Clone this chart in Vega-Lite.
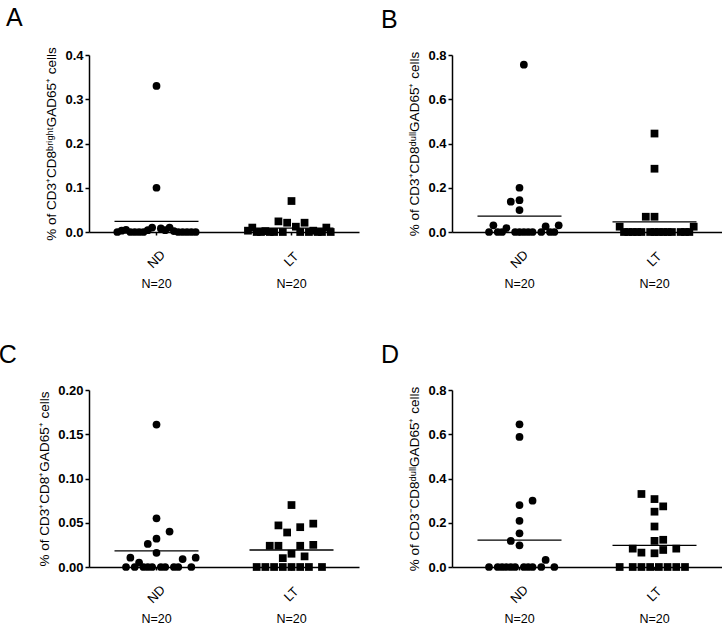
{
  "$schema": "https://vega.github.io/schema/vega-lite/v6.json",
  "background": "white",
  "padding": {"left": -2, "top": 5, "right": 2, "bottom": 0},
  "config": {
    "font": "Liberation Sans",
    "view": {"stroke": null},
    "axis": {"domainColor": "black", "tickColor": "black", "labelColor": "black", "titleColor": "black", "grid": false, "labelFont": "Liberation Sans", "titleFont": "Liberation Sans", "domainWidth": 1.5, "tickWidth": 1.5},
    "title": {"font": "Liberation Sans", "fontSize": 25, "fontWeight": "normal", "color": "black", "anchor": "start", "offset": 16}
  },
  "datasets": {
    "cells": [
      {"panel": "A", "group": "ND", "v": 0.33, "slot": 0},
      {"panel": "A", "group": "ND", "v": 0.1, "slot": 0},
      {"panel": "A", "group": "ND", "v": 0, "slot": -9},
      {"panel": "A", "group": "ND", "v": 0.003, "slot": -8},
      {"panel": "A", "group": "ND", "v": 0.005, "slot": -7},
      {"panel": "A", "group": "ND", "v": 0, "slot": -6},
      {"panel": "A", "group": "ND", "v": 0, "slot": -5},
      {"panel": "A", "group": "ND", "v": 0, "slot": -4},
      {"panel": "A", "group": "ND", "v": 0, "slot": -3},
      {"panel": "A", "group": "ND", "v": 0.004, "slot": -2},
      {"panel": "A", "group": "ND", "v": 0.01, "slot": -1},
      {"panel": "A", "group": "ND", "v": 0.008, "slot": 1},
      {"panel": "A", "group": "ND", "v": 0.004, "slot": 2},
      {"panel": "A", "group": "ND", "v": 0.01, "slot": 3},
      {"panel": "A", "group": "ND", "v": 0.002, "slot": 4},
      {"panel": "A", "group": "ND", "v": 0, "slot": 5},
      {"panel": "A", "group": "ND", "v": 0, "slot": 6},
      {"panel": "A", "group": "ND", "v": 0, "slot": 7},
      {"panel": "A", "group": "ND", "v": 0, "slot": 8},
      {"panel": "A", "group": "ND", "v": 0, "slot": 9},
      {"panel": "A", "group": "LT", "v": 0.07, "slot": 0},
      {"panel": "A", "group": "LT", "v": 0.024, "slot": -3},
      {"panel": "A", "group": "LT", "v": 0.021, "slot": -1},
      {"panel": "A", "group": "LT", "v": 0.021, "slot": 3},
      {"panel": "A", "group": "LT", "v": 0.01, "slot": -9},
      {"panel": "A", "group": "LT", "v": 0.01, "slot": 8},
      {"panel": "A", "group": "LT", "v": 0.012, "slot": 1},
      {"panel": "A", "group": "LT", "v": 0.003, "slot": -10},
      {"panel": "A", "group": "LT", "v": 0, "slot": -8},
      {"panel": "A", "group": "LT", "v": 0, "slot": -7},
      {"panel": "A", "group": "LT", "v": 0.002, "slot": -6},
      {"panel": "A", "group": "LT", "v": 0, "slot": -5},
      {"panel": "A", "group": "LT", "v": 0, "slot": -4},
      {"panel": "A", "group": "LT", "v": 0, "slot": -2},
      {"panel": "A", "group": "LT", "v": 0, "slot": 2},
      {"panel": "A", "group": "LT", "v": 0, "slot": 4},
      {"panel": "A", "group": "LT", "v": 0.003, "slot": 5},
      {"panel": "A", "group": "LT", "v": 0, "slot": 6},
      {"panel": "A", "group": "LT", "v": 0, "slot": 7},
      {"panel": "A", "group": "LT", "v": 0, "slot": 9},

      {"panel": "B", "group": "ND", "v": 0.756, "slot": 1},
      {"panel": "B", "group": "ND", "v": 0.2, "slot": 0},
      {"panel": "B", "group": "ND", "v": 0.144, "slot": 0},
      {"panel": "B", "group": "ND", "v": 0.137, "slot": -2},
      {"panel": "B", "group": "ND", "v": 0.099, "slot": 0},
      {"panel": "B", "group": "ND", "v": 0.03, "slot": -6},
      {"panel": "B", "group": "ND", "v": 0.018, "slot": -3},
      {"panel": "B", "group": "ND", "v": 0, "slot": -7},
      {"panel": "B", "group": "ND", "v": 0.025, "slot": 6},
      {"panel": "B", "group": "ND", "v": 0.03, "slot": 9},
      {"panel": "B", "group": "ND", "v": 0, "slot": 8},
      {"panel": "B", "group": "ND", "v": 0, "slot": -5},
      {"panel": "B", "group": "ND", "v": 0, "slot": -4},
      {"panel": "B", "group": "ND", "v": 0, "slot": -1},
      {"panel": "B", "group": "ND", "v": 0, "slot": 0},
      {"panel": "B", "group": "ND", "v": 0, "slot": 1},
      {"panel": "B", "group": "ND", "v": 0, "slot": 2},
      {"panel": "B", "group": "ND", "v": 0, "slot": 3},
      {"panel": "B", "group": "ND", "v": 0, "slot": 5},
      {"panel": "B", "group": "ND", "v": 0, "slot": 7},
      {"panel": "B", "group": "LT", "v": 0.445, "slot": 0},
      {"panel": "B", "group": "LT", "v": 0.286, "slot": 0},
      {"panel": "B", "group": "LT", "v": 0.069, "slot": -2},
      {"panel": "B", "group": "LT", "v": 0.069, "slot": 0},
      {"panel": "B", "group": "LT", "v": 0.024, "slot": -8},
      {"panel": "B", "group": "LT", "v": 0.024, "slot": 9},
      {"panel": "B", "group": "LT", "v": 0, "slot": -7},
      {"panel": "B", "group": "LT", "v": 0, "slot": -6},
      {"panel": "B", "group": "LT", "v": 0, "slot": -5},
      {"panel": "B", "group": "LT", "v": 0, "slot": -4},
      {"panel": "B", "group": "LT", "v": 0, "slot": -3},
      {"panel": "B", "group": "LT", "v": 0, "slot": -1},
      {"panel": "B", "group": "LT", "v": 0, "slot": 0},
      {"panel": "B", "group": "LT", "v": 0, "slot": 1},
      {"panel": "B", "group": "LT", "v": 0, "slot": 2},
      {"panel": "B", "group": "LT", "v": 0, "slot": 3},
      {"panel": "B", "group": "LT", "v": 0, "slot": 4},
      {"panel": "B", "group": "LT", "v": 0, "slot": 6},
      {"panel": "B", "group": "LT", "v": 0, "slot": 7},
      {"panel": "B", "group": "LT", "v": 0, "slot": 8},

      {"panel": "C", "group": "ND", "v": 0.161, "slot": 0},
      {"panel": "C", "group": "ND", "v": 0.055, "slot": 0},
      {"panel": "C", "group": "ND", "v": 0.04, "slot": 3},
      {"panel": "C", "group": "ND", "v": 0.032, "slot": 0},
      {"panel": "C", "group": "ND", "v": 0.026, "slot": -2},
      {"panel": "C", "group": "ND", "v": 0.016, "slot": 0},
      {"panel": "C", "group": "ND", "v": 0.0105, "slot": -6},
      {"panel": "C", "group": "ND", "v": 0.009, "slot": 6},
      {"panel": "C", "group": "ND", "v": 0.0105, "slot": 9},
      {"panel": "C", "group": "ND", "v": 0, "slot": -7},
      {"panel": "C", "group": "ND", "v": 0.005, "slot": -4},
      {"panel": "C", "group": "ND", "v": 0, "slot": 8},
      {"panel": "C", "group": "ND", "v": 0, "slot": -5},
      {"panel": "C", "group": "ND", "v": 0, "slot": -3},
      {"panel": "C", "group": "ND", "v": 0, "slot": -2},
      {"panel": "C", "group": "ND", "v": 0, "slot": -1},
      {"panel": "C", "group": "ND", "v": 0, "slot": 1},
      {"panel": "C", "group": "ND", "v": 0, "slot": 2},
      {"panel": "C", "group": "ND", "v": 0, "slot": 4},
      {"panel": "C", "group": "ND", "v": 0, "slot": 5},
      {"panel": "C", "group": "LT", "v": 0.07, "slot": 0},
      {"panel": "C", "group": "LT", "v": 0.047, "slot": -3},
      {"panel": "C", "group": "LT", "v": 0.039, "slot": -1},
      {"panel": "C", "group": "LT", "v": 0.045, "slot": 2},
      {"panel": "C", "group": "LT", "v": 0.049, "slot": 5},
      {"panel": "C", "group": "LT", "v": 0.024, "slot": -5},
      {"panel": "C", "group": "LT", "v": 0.024, "slot": -3},
      {"panel": "C", "group": "LT", "v": 0.024, "slot": 2},
      {"panel": "C", "group": "LT", "v": 0.025, "slot": 5},
      {"panel": "C", "group": "LT", "v": 0.015, "slot": 0},
      {"panel": "C", "group": "LT", "v": 0.01, "slot": -2},
      {"panel": "C", "group": "LT", "v": 0.012, "slot": 3},
      {"panel": "C", "group": "LT", "v": 0, "slot": -8},
      {"panel": "C", "group": "LT", "v": 0, "slot": -6},
      {"panel": "C", "group": "LT", "v": 0, "slot": -4},
      {"panel": "C", "group": "LT", "v": 0, "slot": -2},
      {"panel": "C", "group": "LT", "v": 0, "slot": 0},
      {"panel": "C", "group": "LT", "v": 0, "slot": 2},
      {"panel": "C", "group": "LT", "v": 0, "slot": 4},
      {"panel": "C", "group": "LT", "v": 0, "slot": 7},

      {"panel": "D", "group": "ND", "v": 0.645, "slot": 0},
      {"panel": "D", "group": "ND", "v": 0.588, "slot": 0},
      {"panel": "D", "group": "ND", "v": 0.3, "slot": 3},
      {"panel": "D", "group": "ND", "v": 0.28, "slot": 0},
      {"panel": "D", "group": "ND", "v": 0.209, "slot": 0},
      {"panel": "D", "group": "ND", "v": 0.152, "slot": 0},
      {"panel": "D", "group": "ND", "v": 0.118, "slot": -2},
      {"panel": "D", "group": "ND", "v": 0.098, "slot": 0},
      {"panel": "D", "group": "ND", "v": 0.032, "slot": 6},
      {"panel": "D", "group": "ND", "v": 0, "slot": 8},
      {"panel": "D", "group": "ND", "v": 0, "slot": -7},
      {"panel": "D", "group": "ND", "v": 0, "slot": -5},
      {"panel": "D", "group": "ND", "v": 0, "slot": -4},
      {"panel": "D", "group": "ND", "v": 0, "slot": -3},
      {"panel": "D", "group": "ND", "v": 0, "slot": -2},
      {"panel": "D", "group": "ND", "v": 0, "slot": -1},
      {"panel": "D", "group": "ND", "v": 0, "slot": 1},
      {"panel": "D", "group": "ND", "v": 0, "slot": 2},
      {"panel": "D", "group": "ND", "v": 0, "slot": 3},
      {"panel": "D", "group": "ND", "v": 0, "slot": 5},
      {"panel": "D", "group": "LT", "v": 0.33, "slot": -3},
      {"panel": "D", "group": "LT", "v": 0.307, "slot": 0},
      {"panel": "D", "group": "LT", "v": 0.274, "slot": 2},
      {"panel": "D", "group": "LT", "v": 0.25, "slot": 0},
      {"panel": "D", "group": "LT", "v": 0.183, "slot": 0},
      {"panel": "D", "group": "LT", "v": 0.118, "slot": 0},
      {"panel": "D", "group": "LT", "v": 0.123, "slot": 2},
      {"panel": "D", "group": "LT", "v": 0.083, "slot": -5},
      {"panel": "D", "group": "LT", "v": 0.065, "slot": -3},
      {"panel": "D", "group": "LT", "v": 0.062, "slot": 0},
      {"panel": "D", "group": "LT", "v": 0.077, "slot": 2},
      {"panel": "D", "group": "LT", "v": 0.083, "slot": 5},
      {"panel": "D", "group": "LT", "v": 0, "slot": -8},
      {"panel": "D", "group": "LT", "v": 0, "slot": -5},
      {"panel": "D", "group": "LT", "v": 0, "slot": -3},
      {"panel": "D", "group": "LT", "v": 0, "slot": -1},
      {"panel": "D", "group": "LT", "v": 0, "slot": 1},
      {"panel": "D", "group": "LT", "v": 0, "slot": 3},
      {"panel": "D", "group": "LT", "v": 0, "slot": 5},
      {"panel": "D", "group": "LT", "v": 0, "slot": 7}
    ]
  },
  "data": {"name": "cells"},
  "columns": 2,
  "spacing": {"row": 53, "column": 21},
  "concat": [
    {
      "title": {"text": "A", "dx": -39},
      "width": 270, "height": 177,
      "transform": [{"filter": "datum.panel === 'A'"}],
      "layer": [
        {
          "mark": {"type": "point", "filled": true, "opacity": 1, "size": 60, "color": "black"},
          "encoding": {
            "x": {"field": "group", "type": "nominal", "sort": ["ND", "LT"], "scale": {"type": "band", "paddingInner": 0, "paddingOuter": 0}, "axis": {"title": null, "labelAngle": -45, "labelAlign": "center", "labelBaseline": "middle", "labelPadding": 24, "labelFontSize": 13, "tickSize": 3}},
            "xOffset": {"field": "slot", "type": "ordinal", "scale": {"type": "band", "domain": [-15, -14, -13, -12, -11, -10, -9, -8, -7, -6, -5, -4, -3, -2, -1, 0, 1, 2, 3, 4, 5, 6, 7, 8, 9, 10, 11, 12, 13, 14, 15], "paddingInner": 0, "paddingOuter": 0}},
            "y": {"field": "v", "type": "quantitative", "scale": {"domain": [0, 0.4], "nice": false}, "axis": {"title": "% of CD3⁺CD8ᵇʳⁱᵍʰᵗGAD65⁺ cells", "values": [0, 0.1, 0.2, 0.3, 0.4], "format": ".1f", "labelFontWeight": "bold", "labelFontSize": 13, "titleFontSize": 13.5, "titleFontWeight": "normal", "tickSize": 4, "titlePadding": 6}},
            "shape": {"field": "group", "type": "nominal", "scale": {"domain": ["ND", "LT"], "range": ["circle", "square"]}, "legend": null}
          }
        },
        {
          "mark": {"type": "tick", "color": "black", "thickness": 1.3, "size": 84},
          "encoding": {
            "x": {"field": "group", "type": "nominal", "sort": ["ND", "LT"], "axis": {"orient": "bottom", "title": null, "labelAngle": 0, "domain": false, "ticks": false, "labelPadding": 45, "labelExpr": "'N=20'", "labelFontSize": 12.5, "labelBaseline": "top", "labelAlign": "center"}},
            "y": {"aggregate": "mean", "field": "v", "type": "quantitative", "axis": {"title": "% of CD3⁺CD8ᵇʳⁱᵍʰᵗGAD65⁺ cells", "values": [0, 0.1, 0.2, 0.3, 0.4], "format": ".1f", "labelFontWeight": "bold", "labelFontSize": 13, "titleFontSize": 13.5, "titleFontWeight": "normal", "tickSize": 4, "titlePadding": 6}}
          }
        }
      ],
      "resolve": {"axis": {"x": "independent"}}
    },
    {
      "title": {"text": "B", "dx": -27},
      "width": 270, "height": 177,
      "transform": [{"filter": "datum.panel === 'B'"}],
      "layer": [
        {
          "mark": {"type": "point", "filled": true, "opacity": 1, "size": 60, "color": "black"},
          "encoding": {
            "x": {"field": "group", "type": "nominal", "sort": ["ND", "LT"], "scale": {"type": "band", "paddingInner": 0, "paddingOuter": 0}, "axis": {"title": null, "labelAngle": -45, "labelAlign": "center", "labelBaseline": "middle", "labelPadding": 24, "labelFontSize": 13, "tickSize": 3}},
            "xOffset": {"field": "slot", "type": "ordinal", "scale": {"type": "band", "domain": [-15, -14, -13, -12, -11, -10, -9, -8, -7, -6, -5, -4, -3, -2, -1, 0, 1, 2, 3, 4, 5, 6, 7, 8, 9, 10, 11, 12, 13, 14, 15], "paddingInner": 0, "paddingOuter": 0}},
            "y": {"field": "v", "type": "quantitative", "scale": {"domain": [0, 0.8], "nice": false}, "axis": {"title": "% of CD3⁺CD8ᵈᵘˡˡGAD65⁺ cells", "values": [0, 0.2, 0.4, 0.6, 0.8], "format": ".1f", "labelFontWeight": "bold", "labelFontSize": 13, "titleFontSize": 13.5, "titleFontWeight": "normal", "tickSize": 4, "titlePadding": 6}},
            "shape": {"field": "group", "type": "nominal", "scale": {"domain": ["ND", "LT"], "range": ["circle", "square"]}, "legend": null}
          }
        },
        {
          "mark": {"type": "tick", "color": "black", "thickness": 1.3, "size": 84},
          "encoding": {
            "x": {"field": "group", "type": "nominal", "sort": ["ND", "LT"], "axis": {"orient": "bottom", "title": null, "labelAngle": 0, "domain": false, "ticks": false, "labelPadding": 45, "labelExpr": "'N=20'", "labelFontSize": 12.5, "labelBaseline": "top", "labelAlign": "center"}},
            "y": {"aggregate": "mean", "field": "v", "type": "quantitative", "axis": {"title": "% of CD3⁺CD8ᵈᵘˡˡGAD65⁺ cells", "values": [0, 0.2, 0.4, 0.6, 0.8], "format": ".1f", "labelFontWeight": "bold", "labelFontSize": 13, "titleFontSize": 13.5, "titleFontWeight": "normal", "tickSize": 4, "titlePadding": 6}}
          }
        }
      ],
      "resolve": {"axis": {"x": "independent"}}
    },
    {
      "title": {"text": "C", "dx": -39},
      "width": 270, "height": 177,
      "transform": [{"filter": "datum.panel === 'C'"}],
      "layer": [
        {
          "mark": {"type": "point", "filled": true, "opacity": 1, "size": 60, "color": "black"},
          "encoding": {
            "x": {"field": "group", "type": "nominal", "sort": ["ND", "LT"], "scale": {"type": "band", "paddingInner": 0, "paddingOuter": 0}, "axis": {"title": null, "labelAngle": -45, "labelAlign": "center", "labelBaseline": "middle", "labelPadding": 24, "labelFontSize": 13, "tickSize": 3}},
            "xOffset": {"field": "slot", "type": "ordinal", "scale": {"type": "band", "domain": [-15, -14, -13, -12, -11, -10, -9, -8, -7, -6, -5, -4, -3, -2, -1, 0, 1, 2, 3, 4, 5, 6, 7, 8, 9, 10, 11, 12, 13, 14, 15], "paddingInner": 0, "paddingOuter": 0}},
            "y": {"field": "v", "type": "quantitative", "scale": {"domain": [0, 0.2], "nice": false}, "axis": {"title": "% of CD3⁺CD8⁺GAD65⁺ cells", "values": [0, 0.05, 0.1, 0.15, 0.2], "format": ".2f", "labelFontWeight": "bold", "labelFontSize": 13, "titleFontSize": 13.5, "titleFontWeight": "normal", "tickSize": 4, "titlePadding": 6}},
            "shape": {"field": "group", "type": "nominal", "scale": {"domain": ["ND", "LT"], "range": ["circle", "square"]}, "legend": null}
          }
        },
        {
          "mark": {"type": "tick", "color": "black", "thickness": 1.3, "size": 84},
          "encoding": {
            "x": {"field": "group", "type": "nominal", "sort": ["ND", "LT"], "axis": {"orient": "bottom", "title": null, "labelAngle": 0, "domain": false, "ticks": false, "labelPadding": 45, "labelExpr": "'N=20'", "labelFontSize": 12.5, "labelBaseline": "top", "labelAlign": "center"}},
            "y": {"aggregate": "mean", "field": "v", "type": "quantitative", "axis": {"title": "% of CD3⁺CD8⁺GAD65⁺ cells", "values": [0, 0.05, 0.1, 0.15, 0.2], "format": ".2f", "labelFontWeight": "bold", "labelFontSize": 13, "titleFontSize": 13.5, "titleFontWeight": "normal", "tickSize": 4, "titlePadding": 6}}
          }
        }
      ],
      "resolve": {"axis": {"x": "independent"}}
    },
    {
      "title": {"text": "D", "dx": -27},
      "width": 270, "height": 177,
      "transform": [{"filter": "datum.panel === 'D'"}],
      "layer": [
        {
          "mark": {"type": "point", "filled": true, "opacity": 1, "size": 60, "color": "black"},
          "encoding": {
            "x": {"field": "group", "type": "nominal", "sort": ["ND", "LT"], "scale": {"type": "band", "paddingInner": 0, "paddingOuter": 0}, "axis": {"title": null, "labelAngle": -45, "labelAlign": "center", "labelBaseline": "middle", "labelPadding": 24, "labelFontSize": 13, "tickSize": 3}},
            "xOffset": {"field": "slot", "type": "ordinal", "scale": {"type": "band", "domain": [-15, -14, -13, -12, -11, -10, -9, -8, -7, -6, -5, -4, -3, -2, -1, 0, 1, 2, 3, 4, 5, 6, 7, 8, 9, 10, 11, 12, 13, 14, 15], "paddingInner": 0, "paddingOuter": 0}},
            "y": {"field": "v", "type": "quantitative", "scale": {"domain": [0, 0.8], "nice": false}, "axis": {"title": "% of CD3⁻CD8ᵈᵘˡˡGAD65⁺ cells", "values": [0, 0.2, 0.4, 0.6, 0.8], "format": ".1f", "labelFontWeight": "bold", "labelFontSize": 13, "titleFontSize": 13.5, "titleFontWeight": "normal", "tickSize": 4, "titlePadding": 6}},
            "shape": {"field": "group", "type": "nominal", "scale": {"domain": ["ND", "LT"], "range": ["circle", "square"]}, "legend": null}
          }
        },
        {
          "mark": {"type": "tick", "color": "black", "thickness": 1.3, "size": 84},
          "encoding": {
            "x": {"field": "group", "type": "nominal", "sort": ["ND", "LT"], "axis": {"orient": "bottom", "title": null, "labelAngle": 0, "domain": false, "ticks": false, "labelPadding": 45, "labelExpr": "'N=20'", "labelFontSize": 12.5, "labelBaseline": "top", "labelAlign": "center"}},
            "y": {"aggregate": "mean", "field": "v", "type": "quantitative", "axis": {"title": "% of CD3⁻CD8ᵈᵘˡˡGAD65⁺ cells", "values": [0, 0.2, 0.4, 0.6, 0.8], "format": ".1f", "labelFontWeight": "bold", "labelFontSize": 13, "titleFontSize": 13.5, "titleFontWeight": "normal", "tickSize": 4, "titlePadding": 6}}
          }
        }
      ],
      "resolve": {"axis": {"x": "independent"}}
    }
  ]
}
